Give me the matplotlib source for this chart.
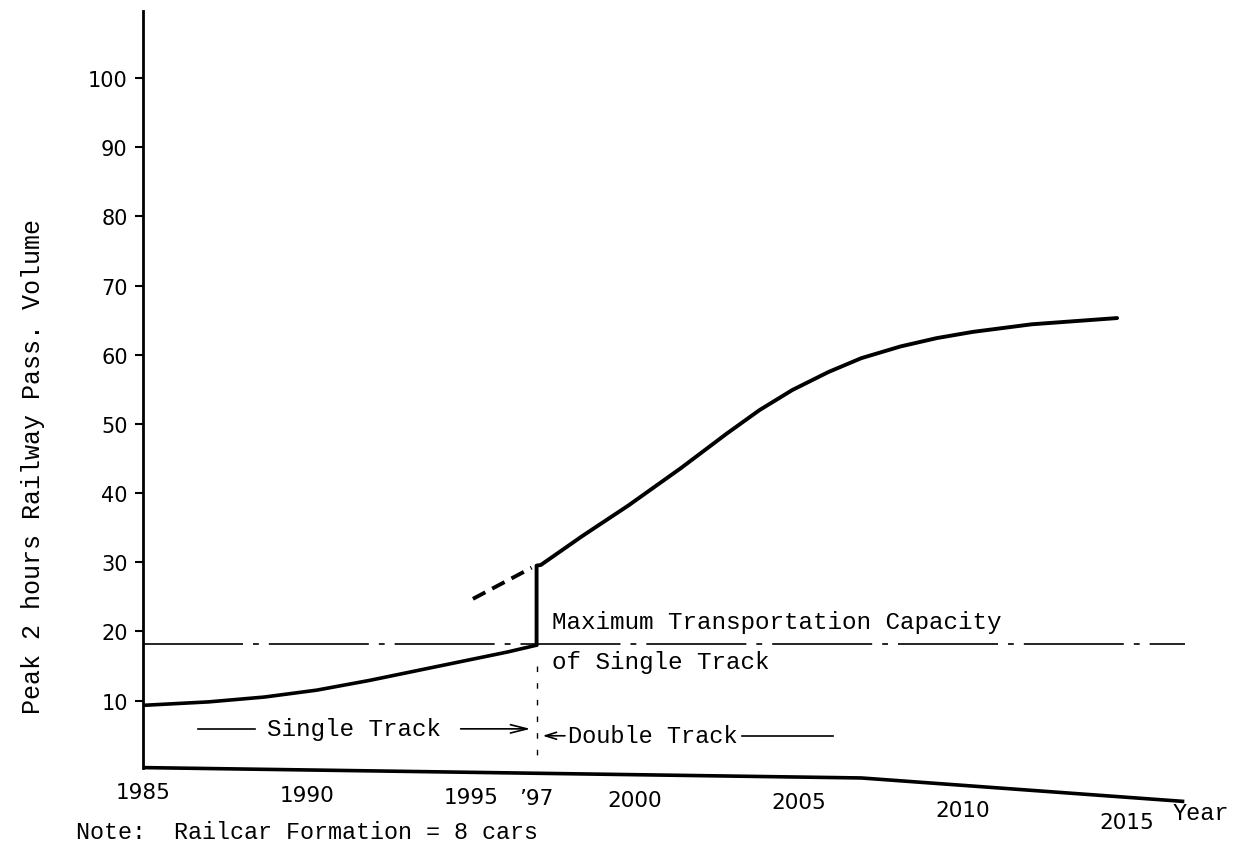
import matplotlib
matplotlib.use("Agg")
import matplotlib.pyplot as plt
import numpy as np

# forecast curve while the line is single track (year, volume)
years_single = [1985.0, 1987.0, 1988.7, 1990.3, 1991.9, 1994.05, 1996.1, 1997.0]
volume_single = [9.3, 9.8, 10.5, 11.5, 12.9, 15.0, 17.0, 18.0]

# forecast curve once the line is double track (starts with the jump at '97)
years_double = [1997.0, 1997.0, 1997.13, 1998.4, 1999.8, 2001.4, 2002.8, 2003.8,
                2004.8, 2005.9, 2006.9, 2008.1, 2009.2, 2010.3, 2012.1, 2014.7]
volume_double = [18.0, 29.5, 29.6, 33.8, 38.2, 43.6, 48.6, 52.0,
                 54.9, 57.5, 59.5, 61.2, 62.4, 63.3, 64.4, 65.3]

# dashed extension of the double-track curve before '97
years_ext = [1995.06, 1996.85]
volume_ext = [24.7, 29.2]

# maximum capacity of single track
capacity = 18.2
capacity_years = [1985.0, 2016.8]

y_ticks = [10, 20, 30, 40, 50, 60, 70, 80, 90, 100]
x_tick_years = [1985, 1990, 1995, 1997, 2000, 2005, 2010, 2015]
x_tick_labels = ["1985", "1990", "1995", "\u201997", "2000", "2005", "2010", "2015"]

# the scanned x axis runs slightly downhill
axis_years = [1985.0, 2006.9, 2016.75]
axis_levels = [0.3, -1.2, -4.6]

MONO = "Liberation Mono"
SANS = "DejaVu Sans"

fig = plt.figure(figsize=(12.48, 8.45), dpi=100)
ax = fig.add_axes([0.1146, 0.0225, 0.8349, 0.9633])
ax.set_xlim(1985.0, 2016.77)
ax.set_ylim(-8.0, 109.7)

# axes
for side in ["top", "right", "bottom"]:
    ax.spines[side].set_visible(False)
ax.spines["left"].set_linewidth(2.0)
ax.spines["left"].set_bounds(0.3, 109.7)
ax.plot(axis_years, axis_levels, color="black", lw=2.6, clip_on=False,
        solid_capstyle="butt")

ax.set_xticks([])
ax.set_yticks(y_ticks)
ax.tick_params(axis="y", length=6, width=1.5, pad=5, labelsize=15)
for lab in ax.get_yticklabels():
    lab.set_fontfamily(SANS)

# x tick labels follow the slanted axis
for yr, txt in zip(x_tick_years, x_tick_labels):
    base = np.interp(yr, axis_years, axis_levels)
    ax.text(yr, base - 3.6, txt, ha="center", va="center", fontsize=15.5,
            family=SANS, clip_on=False)
ax.text(2017.25, np.interp(2016.75, axis_years, axis_levels) - 1.6, "Year",
        ha="center", va="center", fontsize=17, family=MONO, clip_on=False)

# capacity line
ax.plot(capacity_years, [capacity, capacity], color="black", lw=1.2,
        linestyle=(0, (60, 6, 3.5, 6)))

# forecast curves
ax.plot(years_single, volume_single, color="black", lw=2.6,
        solid_joinstyle="round", solid_capstyle="round")
ax.plot(years_double, volume_double, color="black", lw=2.8,
        solid_joinstyle="round", solid_capstyle="round")
ax.plot(years_ext, volume_ext, color="black", lw=2.8, linestyle=(0, (3.6, 2)))

# dashed marker at '97
ax.plot([1997.0, 1997.0], [15.0, 1.0], color="black", lw=1.0,
        linestyle=(0, (4, 8)))

# capacity label
ax.text(1997.47, 21.4, "Maximum Transportation Capacity", ha="left",
        va="center", fontsize=17.5, family=MONO)
ax.text(1997.47, 15.6, "of Single Track", ha="left", va="center",
        fontsize=17.5, family=MONO)

# single / double track annotation
ax.plot([1986.68, 1988.41], [5.9, 5.9], color="black", lw=1.2)
ax.text(1991.42, 5.9, "Single Track", ha="center", va="center",
        fontsize=17.5, family=MONO)
ax.annotate("", xy=(1996.9, 5.9), xytext=(1994.6, 5.9),
            arrowprops=dict(arrowstyle="->,head_length=1.2,head_width=0.3",
                            color="black", lw=1.2))
ax.annotate("", xy=(1997.1, 4.9), xytext=(1997.95, 4.9),
            arrowprops=dict(arrowstyle="->,head_length=0.8,head_width=0.25",
                            color="black", lw=1.2))
ax.text(1997.95, 4.9, "Double Track", ha="left", va="center",
        fontsize=17, family=MONO)
ax.plot([2003.25, 2006.04], [4.9, 4.9], color="black", lw=1.2)

# y label and note
fig.text(0.0265, 1 - 466 / 845, "Peak 2 hours Railway Pass. Volume",
         rotation=90, ha="center", va="center", fontsize=18, family=MONO)
fig.text(0.061, 1 - 833 / 845, "Note:  Railcar Formation = 8 cars",
         ha="left", va="center", fontsize=16.8, family=MONO)

fig.savefig("out.png", dpi=100)
